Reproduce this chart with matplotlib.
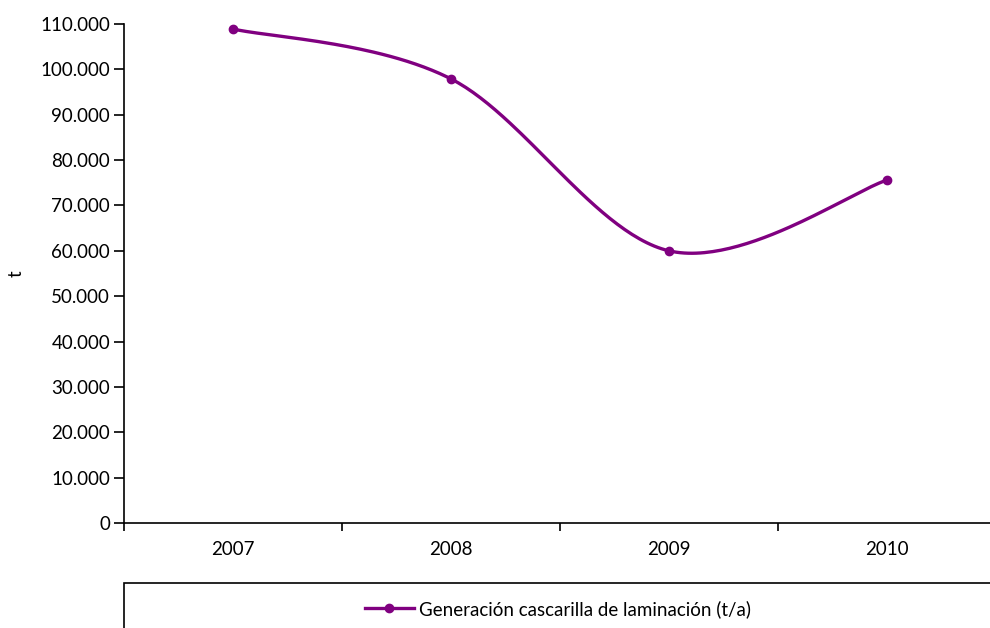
import matplotlib.pyplot as plt
import numpy as np
from matplotlib.patches import Rectangle
from matplotlib.lines import Line2D
from matplotlib.ticker import FuncFormatter

plt.rcParams['font.family'] = ['Lato', 'DejaVu Sans']

# datos
years = ['2007', '2008', '2009', '2010']
cascarilla = [108900, 97900, 60000, 75600]
serie = 'Generación cascarilla de laminación (t/a)'
color = '#800080'

x = np.arange(len(years))
y = np.array(cascarilla, dtype=float)

# curva suavizada tipo Excel (Catmull-Rom como Bezier)
pts = np.column_stack([x, y])
ext = np.vstack([pts[0], pts, pts[-1]])
xs, ys = [], []
t = np.linspace(0, 1, 60)
for i in range(len(pts) - 1):
    p0, p1, p2, p3 = ext[i], ext[i + 1], ext[i + 2], ext[i + 3]
    c1 = p1 + (p2 - p0) / 6
    c2 = p2 - (p3 - p1) / 6
    b = ((1 - t) ** 3)[:, None] * p1 + (3 * (1 - t) ** 2 * t)[:, None] * c1 \
        + (3 * (1 - t) * t ** 2)[:, None] * c2 + (t ** 3)[:, None] * p2
    xs.extend(b[:, 0])
    ys.extend(b[:, 1])

fs = 13.5
fig = plt.figure(figsize=(9.9, 6.28), dpi=100)
ax = fig.add_axes([124 / 990, 1 - 523 / 628, 872 / 990, 499 / 628])
ax.plot(xs, ys, color=color, lw=2.4, solid_capstyle='round')
ax.plot(x, y, 'o', color=color, ms=6)

ax.set_xlim(-0.5, 3.5)
ax.set_ylim(0, 110000)
ax.set_yticks(np.arange(0, 110001, 10000))
ax.yaxis.set_major_formatter(FuncFormatter(lambda v, p: f'{int(v):,}'.replace(',', '.')))
ax.set_xticks(x)
ax.set_xticklabels(years)
ax.set_xticks(np.arange(-0.5, 3.6, 1), minor=True)
ax.tick_params(axis='x', which='major', length=0, pad=13, labelsize=fs)
ax.tick_params(axis='x', which='minor', length=6, width=1.2, direction='out')
ax.tick_params(axis='y', length=7, width=1.2, direction='out', labelsize=fs, pad=3)
for s in ['top', 'right']:
    ax.spines[s].set_visible(False)
for s in ['left', 'bottom']:
    ax.spines[s].set_linewidth(1.2)
ax.set_ylabel('t', fontsize=fs, labelpad=11)

# caja de leyenda
fig.patches.append(Rectangle((124 / 990, -0.1), 0.9, (628 - 583) / 628 + 0.1,
                             transform=fig.transFigure, fill=False, lw=1.2,
                             edgecolor='black'))
handle = Line2D([], [], color=color, lw=2.4, marker='o', ms=6)
fig.legend([handle], [serie], loc='center left', bbox_to_anchor=(348 / 990, 1 - 609 / 628),
           frameon=False, fontsize=fs, handlelength=2.6, handletextpad=0.3)

fig.savefig('out.png', dpi=100)
